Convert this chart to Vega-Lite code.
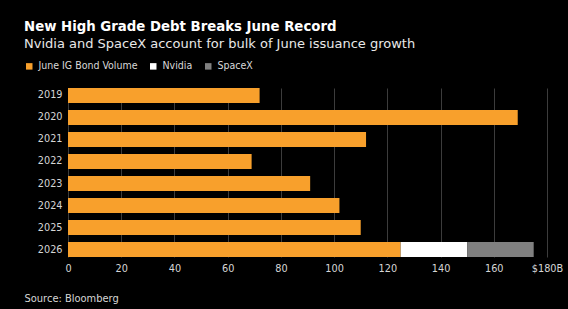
{
  "$schema": "https://vega.github.io/schema/vega-lite/v6.json",
  "autosize": {"type": "none"},
  "width": 479,
  "height": 169,
  "padding": {"left": 68, "top": 88, "right": 21, "bottom": 52},
  "background": "#000000",
  "title": {
    "text": "New High Grade Debt Breaks June Record",
    "subtitle": "Nvidia and SpaceX account for bulk of June issuance growth",
    "anchor": "start",
    "frame": "group",
    "orient": "top",
    "dx": -44,
    "font": "DejaVu Sans",
    "fontSize": 13.3,
    "fontWeight": "bold",
    "color": "#ffffff",
    "subtitleFont": "DejaVu Sans",
    "subtitleFontSize": 13,
    "subtitleColor": "#e8e8e8",
    "subtitlePadding": 5,
    "offset": 10
  },
  "data": {
    "values": [
      {"year": "2019", "series": "June IG Bond Volume", "value": 72},
      {"year": "2020", "series": "June IG Bond Volume", "value": 169},
      {"year": "2021", "series": "June IG Bond Volume", "value": 112},
      {"year": "2022", "series": "June IG Bond Volume", "value": 69},
      {"year": "2023", "series": "June IG Bond Volume", "value": 91},
      {"year": "2024", "series": "June IG Bond Volume", "value": 102},
      {"year": "2025", "series": "June IG Bond Volume", "value": 110},
      {"year": "2026", "series": "June IG Bond Volume", "value": 125},
      {"year": "2026", "series": "Nvidia", "value": 25},
      {"year": "2026", "series": "SpaceX", "value": 25}
    ]
  },
  "mark": {"type": "bar"},
  "encoding": {
    "y": {
      "field": "year",
      "type": "nominal",
      "sort": null,
      "scale": {"paddingInner": 0.32, "paddingOuter": 0},
      "axis": {
        "title": null,
        "domain": false,
        "ticks": false,
        "labelPadding": 6,
        "labelFont": "DejaVu Sans Condensed",
        "labelFontSize": 10.8,
        "labelColor": "#d6d6d6"
      }
    },
    "x": {
      "field": "value",
      "type": "quantitative",
      "stack": "zero",
      "scale": {"domain": [0, 180], "nice": false},
      "axis": {
        "values": [0, 20, 40, 60, 80, 100, 120, 140, 160, 180],
        "labelExpr": "datum.value == 180 ? '$180B' : datum.label",
        "labelFlush": false,
        "labelOverlap": false,
        "domain": false,
        "ticks": false,
        "grid": true,
        "gridColor": "#3c3c3c",
        "gridWidth": 1,
        "labelPadding": 5,
        "labelFont": "DejaVu Sans Condensed",
        "labelFontSize": 10.8,
        "labelColor": "#d6d6d6",
        "title": "Source: Bloomberg",
        "titleFont": "DejaVu Sans Condensed",
        "titleFontSize": 11,
        "titleFontWeight": "normal",
        "titleColor": "#d6d6d6",
        "titleAnchor": "start",
        "titleAlign": "left",
        "titleBaseline": "alphabetic",
        "titleX": -44,
        "titleY": 44
      }
    },
    "color": {
      "field": "series",
      "type": "nominal",
      "scale": {
        "domain": ["June IG Bond Volume", "Nvidia", "SpaceX"],
        "range": ["#F8A02C", "#FFFFFF", "#808080"]
      },
      "legend": {
        "title": null,
        "orient": "none",
        "direction": "horizontal",
        "legendX": -44,
        "legendY": -27,
        "symbolType": "square",
        "symbolSize": 42,
        "symbolStrokeWidth": 0,
        "labelFont": "DejaVu Sans Condensed",
        "labelFontSize": 10.5,
        "labelColor": "#d9d9d9",
        "labelOffset": 4,
        "columnPadding": 10
      }
    }
  },
  "config": {"view": {"stroke": null}}
}
